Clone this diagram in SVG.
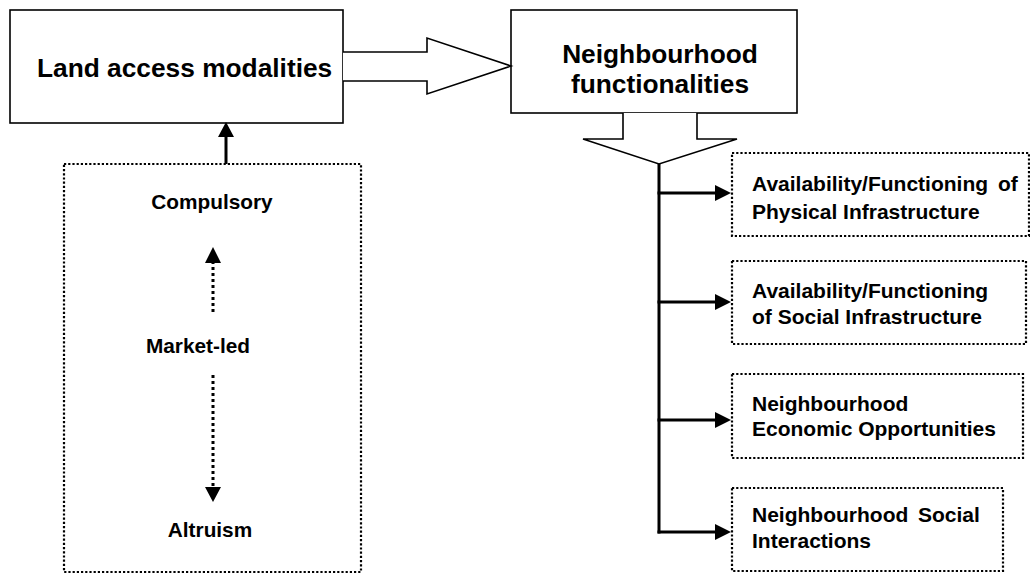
<svg xmlns="http://www.w3.org/2000/svg" width="1030" height="574" viewBox="0 0 1030 574">
<style>
  .solid { fill: #fff; stroke: #000; stroke-width: 1.6; }
  .dotted { fill: #fff; stroke: #000; stroke-width: 2.2; stroke-dasharray: 2.2 2; }
  .t { font-family: "Liberation Sans", Arial, sans-serif; font-weight: bold; fill: #000; }
  .big { font-size: 26.3px; }
  .mid { font-size: 21px; }
  .sm { font-size: 20.8px; }
  .line { stroke: #000; stroke-width: 3; fill: none; }
  .dline { stroke: #000; stroke-width: 3; fill: none; stroke-dasharray: 3 3; }
</style>
<rect width="1030" height="574" fill="#fff"/>
<g id="land">
  <rect class="solid" x="10" y="10" width="333" height="113"/>
  <text class="t big" x="37" y="77">Land access modalities</text>
</g>
<g id="neighbourhood">
  <rect class="solid" x="511" y="10" width="286" height="103"/>
  <text class="t big" x="660" y="63" text-anchor="middle">Neighbourhood</text>
  <text class="t big" x="660" y="93" text-anchor="middle">functionalities</text>
</g>
<g id="spectrum">
  <rect class="dotted" x="64" y="164" width="297" height="408"/>
  <text class="t sm" x="212" y="209" text-anchor="middle">Compulsory</text>
  <text class="t sm" x="198" y="353" text-anchor="middle">Market-led</text>
  <text class="t sm" x="210" y="537" text-anchor="middle">Altruism</text>
</g>
<g id="physical">
  <rect class="dotted" x="732" y="153" width="297" height="83"/>
  <text class="t mid" x="752" y="191">Availability/Functioning <tspan x="998">of</tspan></text>
  <text class="t mid" x="752" y="219">Physical Infrastructure</text>
</g>
<g id="social-infra">
  <rect class="dotted" x="732" y="261" width="294" height="83"/>
  <text class="t mid" x="752" y="298">Availability/Functioning</text>
  <text class="t mid" x="752" y="324">of Social Infrastructure</text>
</g>
<g id="economic">
  <rect class="dotted" x="732" y="374" width="291" height="84"/>
  <text class="t mid" x="752" y="411">Neighbourhood</text>
  <text class="t mid" x="752" y="436">Economic Opportunities</text>
</g>
<g id="social-interactions">
  <rect class="dotted" x="732" y="488" width="271" height="83"/>
  <text class="t mid" x="752" y="522">Neighbourhood <tspan x="918">Social</tspan></text>
  <text class="t mid" x="752" y="548">Interactions</text>
</g>
<g id="connectors">
  <polyline class="solid" points="343,52 427,52 427,38 511,66 427,94 427,81 343,81"/>
  <polyline class="solid" points="623,113 623,139 583,139 659,164 737,139 697,139 697,113"/>
  <line class="line" x1="226" y1="164" x2="226" y2="135"/>
  <polygon points="226,122 218,137 234,137" fill="#000"/>
  <line class="dline" x1="213" y1="312" x2="213" y2="262"/>
  <polygon points="213,247 205,263 221,263" fill="#000"/>
  <line class="dline" x1="213" y1="375" x2="213" y2="488"/>
  <polygon points="213,502 205,487 221,487" fill="#000"/>
  <line class="line" x1="659" y1="164" x2="659" y2="533.5"/>
  <line class="line" x1="657.5" y1="193" x2="717" y2="193"/>
  <polygon points="731,193 715,185 715,201" fill="#000"/>
  <line class="line" x1="657.5" y1="302" x2="717" y2="302"/>
  <polygon points="731,302 715,294 715,310" fill="#000"/>
  <line class="line" x1="657.5" y1="420" x2="717" y2="420"/>
  <polygon points="731,420 715,412 715,428" fill="#000"/>
  <line class="line" x1="657.5" y1="532" x2="717" y2="532"/>
  <polygon points="731,532 715,524 715,540" fill="#000"/>
</g>
</svg>
